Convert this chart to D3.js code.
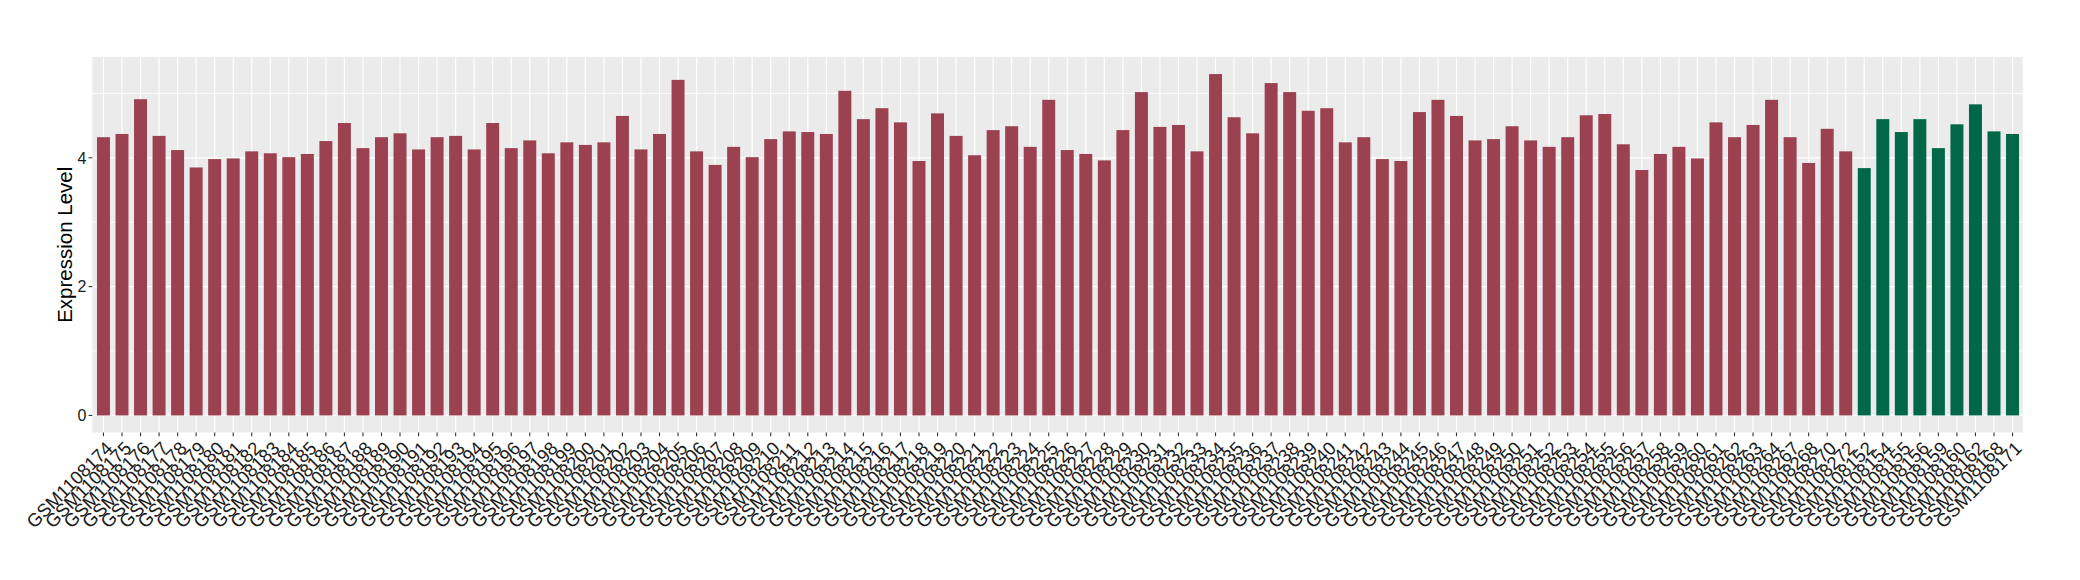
<!DOCTYPE html>
<html><head><meta charset="utf-8">
<script src="https://cdn.jsdelivr.net/npm/d3@7"></script>
<style>body{margin:0;background:#fff} svg{display:block}</style>
</head><body><svg id="c" width="2080" height="580"></svg>
<script>
// ---- data ----
const groupASamples = [
 "GSM1108174","GSM1108175","GSM1108176","GSM1108177","GSM1108178","GSM1108179","GSM1108180","GSM1108181","GSM1108182","GSM1108183",
 "GSM1108184","GSM1108185","GSM1108186","GSM1108187","GSM1108188","GSM1108189","GSM1108190","GSM1108191","GSM1108192","GSM1108193",
 "GSM1108194","GSM1108195","GSM1108196","GSM1108197","GSM1108198","GSM1108199","GSM1108200","GSM1108201","GSM1108202","GSM1108203",
 "GSM1108204","GSM1108205","GSM1108206","GSM1108207","GSM1108208","GSM1108209","GSM1108210","GSM1108211","GSM1108212","GSM1108213",
 "GSM1108214","GSM1108215","GSM1108216","GSM1108217","GSM1108218","GSM1108219","GSM1108220","GSM1108221","GSM1108222","GSM1108223",
 "GSM1108224","GSM1108225","GSM1108226","GSM1108227","GSM1108228","GSM1108229","GSM1108230","GSM1108231","GSM1108232","GSM1108233",
 "GSM1108234","GSM1108235","GSM1108236","GSM1108237","GSM1108238","GSM1108239","GSM1108240","GSM1108241","GSM1108242","GSM1108243",
 "GSM1108244","GSM1108245","GSM1108246","GSM1108247","GSM1108248","GSM1108249","GSM1108250","GSM1108251","GSM1108252","GSM1108253",
 "GSM1108254","GSM1108255","GSM1108256","GSM1108257","GSM1108258","GSM1108259","GSM1108260","GSM1108261","GSM1108262","GSM1108263",
 "GSM1108264","GSM1108267","GSM1108268","GSM1108270","GSM1108272"
];
const groupAValues = [
 4.32,4.37,4.91,4.34,4.12,3.85,3.98,3.99,4.10,4.07,4.01,4.06,4.26,4.54,4.15,4.32,4.38,4.13,
 4.32,4.34,4.13,4.54,4.15,4.27,4.07,4.24,4.20,4.24,4.65,4.13,4.37,5.21,4.10,3.89,4.17,4.01,4.29,
 4.41,4.40,4.37,5.04,4.60,4.77,4.55,3.95,4.69,4.34,4.04,4.43,4.49,4.17,4.90,4.12,4.06,3.96,4.43,
 5.02,4.48,4.51,4.10,5.30,4.63,4.38,5.16,5.02,4.73,4.77,4.24,4.32,3.98,3.95,4.71,4.90,4.65,
 4.27,4.29,4.49,4.27,4.17,4.32,4.66,4.68,4.21,3.81,4.06,4.17,3.99,4.55,4.32,4.51,4.90,4.32,3.92,4.45,4.10
];
const groupBSamples = ["GSM1108152","GSM1108154","GSM1108155","GSM1108156","GSM1108159","GSM1108160","GSM1108162","GSM1108168","GSM1108171"];
const groupBValues = [3.84,4.60,4.40,4.60,4.15,4.52,4.83,4.41,4.37];
const yMajorTicks = [0, 2, 4];
const yMinorTicks = [1, 3, 5];
const yTitle = "Expression Level";
const colorA = "#9B4150", colorB = "#006747";

// ---- build ----
const rows = groupASamples.map((s,i)=>({sample:s, value:groupAValues[i], color:colorA}))
  .concat(groupBSamples.map((s,i)=>({sample:s, value:groupBValues[i], color:colorB})));

const svg = d3.select("#c");
const panel = {left:92.3, right:2022.7, top:57, bottom:432.5};
const yMax = d3.max(rows, d=>d.value);
const y = d3.scaleLinear().domain([-0.05*yMax, 1.05*yMax]).range([panel.bottom, panel.top]);
const x = d3.scaleBand().domain(rows.map(d=>d.sample)).range([94.2, 2021.8]).paddingInner(0.3).paddingOuter(0.15);
const cx = d => x(d) + x.bandwidth()/2;

const font = "'Liberation Sans', Arial, Helvetica, sans-serif";

svg.append("rect").attr("x",panel.left).attr("y",panel.top)
  .attr("width",panel.right-panel.left).attr("height",panel.bottom-panel.top).attr("fill","#EBEBEB");

const g = svg.append("g");
g.selectAll("line.ymin").data(yMinorTicks).join("line")
  .attr("x1",panel.left).attr("x2",panel.right)
  .attr("y1",d=>y(d)).attr("y2",d=>y(d)).attr("stroke","#fff").attr("stroke-width",0.9);
g.selectAll("line.ymaj").data(yMajorTicks).join("line")
  .attr("x1",panel.left).attr("x2",panel.right)
  .attr("y1",d=>y(d)).attr("y2",d=>y(d)).attr("stroke","#fff").attr("stroke-width",1.2);
g.selectAll("line.xg").data(rows).join("line")
  .attr("x1",d=>cx(d.sample)).attr("x2",d=>cx(d.sample))
  .attr("y1",panel.top).attr("y2",panel.bottom).attr("stroke","#fff").attr("stroke-width",1.2);

svg.append("g").selectAll("rect").data(rows).join("rect")
  .attr("x",d=>x(d.sample)).attr("width",x.bandwidth())
  .attr("y",d=>y(d.value)).attr("height",d=>y(0)-y(d.value))
  .attr("fill",d=>d.color);

const ya = svg.append("g");
ya.selectAll("line").data(yMajorTicks).join("line")
  .attr("x1",panel.left-3.7).attr("x2",panel.left).attr("y1",d=>y(d)).attr("y2",d=>y(d))
  .attr("stroke","#333").attr("stroke-width",1.1);
ya.selectAll("text").data(yMajorTicks).join("text")
  .attr("x",panel.left-6).attr("y",d=>y(d)).attr("dy","0.36em")
  .attr("text-anchor","end").attr("font-family",font).attr("font-size",16).attr("fill","#1a1a1a")
  .text(d=>d3.format("d")(d));

const xa = svg.append("g");
xa.selectAll("line").data(rows).join("line")
  .attr("x1",d=>cx(d.sample)).attr("x2",d=>cx(d.sample))
  .attr("y1",panel.bottom).attr("y2",panel.bottom+3.7)
  .attr("stroke","#333").attr("stroke-width",1.1);
xa.selectAll("text").data(rows).join("text")
  .attr("transform",d=>`translate(${cx(d.sample)+1},${panel.bottom+7.5}) rotate(-45)`)
  .attr("dy","0.72em").attr("text-anchor","end")
  .attr("font-family",font).attr("font-size",18.5).attr("fill","#1a1a1a")
  .text(d=>d.sample);

svg.append("text")
  .attr("transform",`translate(72,${(panel.top+panel.bottom)/2}) rotate(-90)`)
  .attr("text-anchor","middle").attr("font-family",font).attr("font-size",20.5).attr("fill","#000")
  .text(yTitle);
</script></body></html>
